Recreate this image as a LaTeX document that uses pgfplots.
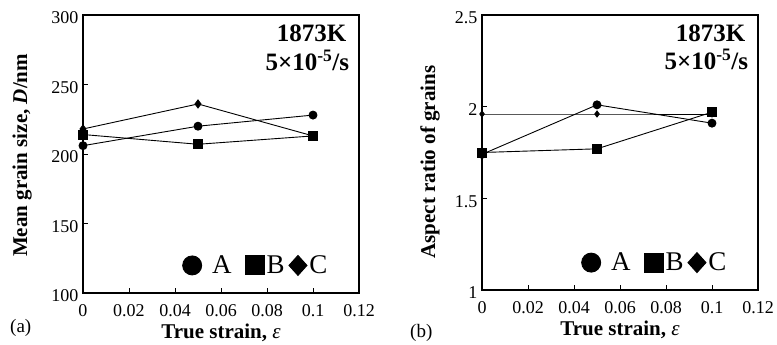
\documentclass[border=0pt]{standalone}
\usepackage{fontspec}
\setmainfont{Liberation Serif}
\usepackage{pgfplots}
\pgfplotsset{compat=1.18}

% Grain size (nm) versus true strain at 1873 K, 5e-5 /s
\pgfplotstableread{
x     A     B     C
0     206   214   218
0.05  220   207   236
0.1   228   213   213
}\sizedata

% Aspect ratio of grains versus true strain
\pgfplotstableread{
x     A     B     C
0     1.74  1.75  1.96
0.05  2.01  1.77  1.96
0.1   1.91  1.97  1.96
}\ratiodata

\tikzset{
  condition/.style={anchor=base east, font=\bfseries\fontsize{25}{25}\selectfont, inner sep=0pt},
}

\pgfplotsset{
  grainaxis/.style={
    scale only axis,
    width=276pt,
    anchor=south west,
    xmin=0, xmax=0.12,
    xtick={0,0.02,0.04,0.06,0.08,0.1,0.12},
    tick align=inside,
    xtick pos=bottom, ytick pos=left,
    major tick length=5pt,
    axis line style={line width=1.3pt},
    every tick/.style={black, line width=0.9pt},
    scaled x ticks=false,
    xticklabel style={/pgf/number format/fixed, /pgf/number format/precision=2, yshift=-8pt},
    yticklabel style={yshift=-3pt, xshift=-1pt},
    /pgf/number format/assume math mode=true,
    tick label style={font=\fontsize{18}{18}\selectfont},
    label style={font=\bfseries\fontsize{21}{21}\selectfont},
    xlabel={True strain, \textit{\mdseries ε}},
    xlabel style={at={(axis description cs:0.5,0)}, anchor=base, yshift=-46pt},
    legend columns=3,
    legend style={draw=none, fill=none, inner sep=0pt,
      at={(rel axis cs:0.89,0.06)}, anchor=south east,
      font=\fontsize{27}{27}\selectfont,
      nodes={inner sep=1pt},
      column sep=1pt},
  },
  serA/.style={black, line width=0.9pt, mark=*, mark size=4pt,
    legend image code/.code={\fill[black] (0pt,0pt) circle (9.5pt);}},
  serB/.style={black, line width=0.9pt, mark=square*, mark size=4.5pt,
    legend image code/.code={\fill[black] (-9.5pt,-9.5pt) rectangle (9.5pt,9.5pt);}},
  serC/.style={black, line width=0.9pt, mark=diamond*, mark size=4pt,
    legend image code/.code={\fill[black] (0pt,-10pt) -- (9pt,0pt) -- (0pt,10pt) -- (-9pt,0pt) -- cycle;}},
}

\begin{document}
\begin{tikzpicture}
\path[use as bounding box] (0pt,0pt) rectangle (777pt,345pt);

% (a) mean grain size
\begin{axis}[grainaxis,
  at={(83pt,52pt)}, height=278pt,
  ymin=100, ymax=300, ytick={100,150,200,250,300},
  ylabel={Mean grain size, \textit{D}/nm},
  ylabel style={at={(axis description cs:-0.22,0.495)}, anchor=center}]
\addplot[serA] table[x=x, y=A] {\sizedata};
\addplot[serB] table[x=x, y=B] {\sizedata};
\addplot[serC] table[x=x, y=C] {\sizedata};
\legend{\hspace{8pt}A\rule{11pt}{0pt}, B\rule{2pt}{0pt}, C}
\node[condition] at (rel axis cs:0.955,0.905) {1873K};
\node[condition] at (rel axis cs:0.965,0.8) {5×10\textsuperscript{-5}/s};
\end{axis}
\node[anchor=west, font=\fontsize{19}{19}\selectfont, inner sep=0pt] at (10pt,17pt) {(a)};

% (b) aspect ratio
\begin{axis}[grainaxis,
  at={(482pt,55pt)}, height=275pt,
  ymin=1, ymax=2.5, ytick={1,1.5,2,2.5},
  yticklabel style={/pgf/number format/fixed},
  ylabel={Aspect ratio of grains},
  ylabel style={at={(axis description cs:-0.188,0.465)}, anchor=center}]
\addplot[serA] table[x=x, y=A] {\ratiodata};
\addplot[serB] table[x=x, y=B] {\ratiodata};
\addplot[serC, mark size=3pt] table[x=x, y=C] {\ratiodata};
\legend{\hspace{8pt}A\rule{11pt}{0pt}, B\rule{2pt}{0pt}, C}
\node[condition] at (rel axis cs:0.955,0.905) {1873K};
\node[condition] at (rel axis cs:0.965,0.8) {5×10\textsuperscript{-5}/s};
\end{axis}
\node[anchor=west, font=\fontsize{19}{19}\selectfont, inner sep=0pt] at (410pt,12pt) {(b)};
\end{tikzpicture}
\end{document}
